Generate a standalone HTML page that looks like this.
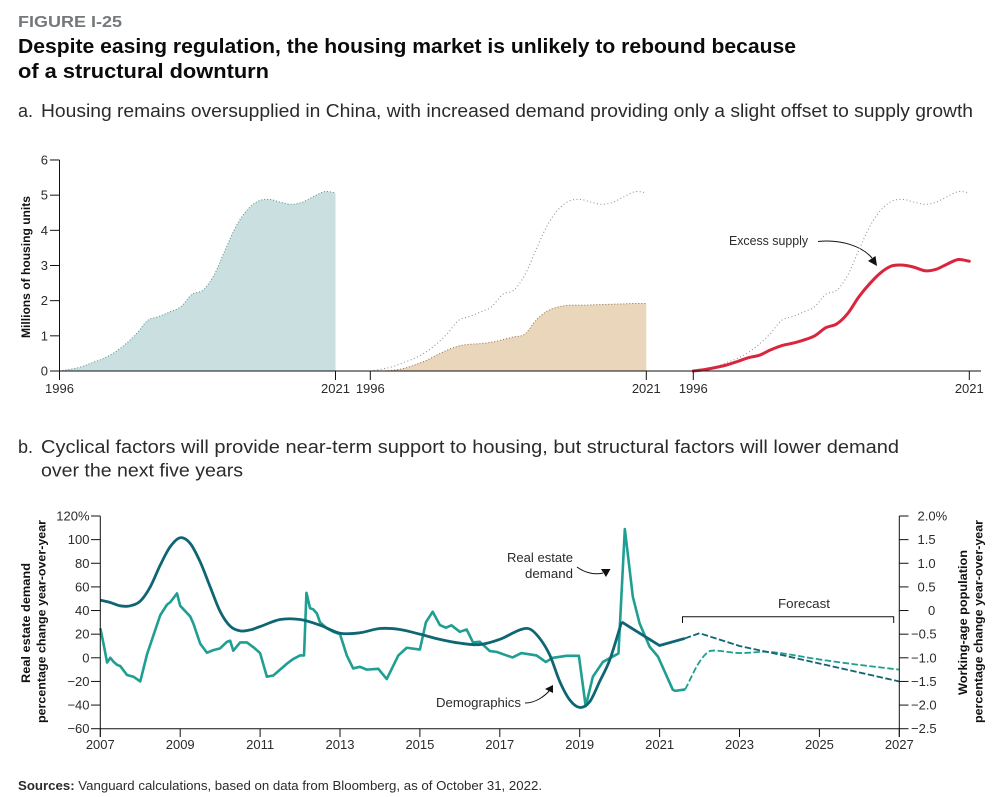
<!DOCTYPE html>
<html lang="en">
<head>
<meta charset="utf-8">
<title>Figure I-25</title>
<style>
html,body{margin:0;padding:0;background:#fff;width:1003px;height:797px;overflow:hidden}
svg{display:block;font-family:"Liberation Sans",sans-serif}
text{fill:#2b2b2b}
</style>
</head>
<body>
<svg id="fig" xmlns="http://www.w3.org/2000/svg" width="1003" height="797" viewBox="0 0 1003 797">
  <text x="18" y="27" font-size="16" font-weight="700" style="fill:#75787b" textLength="104" lengthAdjust="spacingAndGlyphs">FIGURE I-25</text>
  <text x="18" y="53" font-size="20" font-weight="700" style="fill:#0b0b0b" textLength="778" lengthAdjust="spacingAndGlyphs">Despite easing regulation, the housing market is unlikely to rebound because</text>
  <text x="18" y="78" font-size="20" font-weight="700" style="fill:#0b0b0b" textLength="251" lengthAdjust="spacingAndGlyphs">of a structural downturn</text>
  <text x="18" y="117" font-size="18">a.</text>
  <text x="41" y="117" font-size="18" textLength="932" lengthAdjust="spacingAndGlyphs">Housing remains oversupplied in China, with increased demand providing only a slight offset to supply growth</text>
  <text x="18" y="453" font-size="18">b.</text>
  <text x="41" y="453" font-size="18" textLength="858" lengthAdjust="spacingAndGlyphs">Cyclical factors will provide near-term support to housing, but structural factors will lower demand</text>
  <text x="41" y="476.500" font-size="18" textLength="202" lengthAdjust="spacingAndGlyphs">over the next five years</text>

  <text transform="translate(30,267) rotate(-90)" text-anchor="middle" font-size="12" font-weight="700" style="fill:#111" textLength="142" lengthAdjust="spacingAndGlyphs">Millions of housing units</text>
  <text transform="translate(30,623) rotate(-90)" text-anchor="middle" font-size="12" font-weight="700" style="fill:#111" textLength="120" lengthAdjust="spacingAndGlyphs">Real estate demand</text>
  <text transform="translate(45.500,621.500) rotate(-90)" text-anchor="middle" font-size="12" font-weight="700" style="fill:#111" textLength="203" lengthAdjust="spacingAndGlyphs">percentage change year-over-year</text>
  <text transform="translate(967,622.500) rotate(-90)" text-anchor="middle" font-size="12" font-weight="700" style="fill:#111" textLength="145" lengthAdjust="spacingAndGlyphs">Working-age population</text>
  <text transform="translate(982.500,621.500) rotate(-90)" text-anchor="middle" font-size="12" font-weight="700" style="fill:#111" textLength="203" lengthAdjust="spacingAndGlyphs">percentage change year-over-year</text>

  <text x="262" y="245" font-size="13" textLength="39" lengthAdjust="spacingAndGlyphs">Supply</text>
  <text x="563" y="335" font-size="13" textLength="50" lengthAdjust="spacingAndGlyphs">Demand</text>
  <text x="729" y="245" font-size="13" textLength="79" lengthAdjust="spacingAndGlyphs">Excess supply</text>
  <path d="M818 241.500C840 239 862 246 872 258" fill="none" stroke="#111" stroke-width="1"/>
  <path d="M877 266L868 261L875.500 256Z" fill="#111"/>

  <text x="573" y="562" font-size="13" text-anchor="end" textLength="66" lengthAdjust="spacingAndGlyphs">Real estate</text>
  <text x="573" y="578" font-size="13" text-anchor="end" textLength="48" lengthAdjust="spacingAndGlyphs">demand</text>
  <path d="M577 567C585 573 595 575 603 573" fill="none" stroke="#111" stroke-width="1"/>
  <path d="M601 569L610.500 569L606 577Z" fill="#111"/>

  <text x="436" y="707" font-size="13" textLength="85" lengthAdjust="spacingAndGlyphs">Demographics</text>
  <path d="M525 703C535 703 544 697 550 690" fill="none" stroke="#111" stroke-width="1"/>
  <path d="M553 685L553 693L545 689Z" fill="#111"/>

  <text x="804" y="608" font-size="13" text-anchor="middle" textLength="52" lengthAdjust="spacingAndGlyphs">Forecast</text>
  <path d="M682.500 623V616.700H893.700V623" fill="none" stroke="#111" stroke-width="1"/>

  <text x="18" y="790" font-size="13" textLength="524" lengthAdjust="spacingAndGlyphs"><tspan font-weight="700">Sources:</tspan> Vanguard calculations, based on data from Bloomberg, as of October 31, 2022.</text>
</svg>

<script>
// Panel a data
const housingYears = [1996,1997,1998,1999,2000,2001,2002,2003,2004,2005,2006,2007,2008,2009,2010,2011,2012,2013,2014,2015,2016,2017,2018,2019,2020,2021];
const supplyValues = [0,0.05,0.12,0.24,0.36,0.53,0.77,1.07,1.44,1.55,1.68,1.83,2.18,2.30,2.73,3.44,4.12,4.58,4.83,4.88,4.80,4.74,4.80,4.96,5.10,5.07];
const demandValues = [0,0,0.02,0.07,0.17,0.29,0.45,0.60,0.71,0.76,0.78,0.82,0.89,0.97,1.05,1.44,1.70,1.82,1.87,1.87,1.88,1.89,1.90,1.91,1.92,1.92];
const excessValues = [0,0.04,0.10,0.17,0.27,0.38,0.45,0.60,0.72,0.79,0.88,1.00,1.23,1.34,1.64,2.11,2.49,2.80,2.99,3.01,2.95,2.85,2.89,3.04,3.17,3.12];
const housingYTicks = [0,1,2,3,4,5,6];
const housingXTicks = [1996,2021];

// Panel b data
const demandYears = [2007,2007.08,2007.17,2007.25,2007.33,2007.42,2007.5,2007.67,2007.83,2008,2008.17,2008.33,2008.5,2008.67,2008.75,2008.92,2009,2009.25,2009.33,2009.5,2009.67,2009.83,2010,2010.17,2010.25,2010.33,2010.5,2010.67,2010.83,2011,2011.17,2011.33,2011.5,2011.67,2011.83,2012,2012.1,2012.16,2012.25,2012.33,2012.42,2012.5,2012.67,2012.83,2013,2013.17,2013.33,2013.5,2013.67,2013.96,2014.17,2014.46,2014.67,2015,2015.15,2015.32,2015.5,2015.65,2015.79,2016,2016.17,2016.33,2016.5,2016.75,2016.92,2017.17,2017.32,2017.54,2017.92,2018.15,2018.33,2018.67,2018.98,2019.15,2019.33,2019.58,2019.97,2020.13,2020.33,2020.5,2020.75,2020.96,2021.33,2021.39,2021.64];
const demandPct = [25,12,-4,0,-3.3,-6,-7,-14.6,-16,-20,3,19,36,45,47,54.5,44,35,29,12,4.3,6.5,8,13.5,14.5,6,13,13,9,4,-16,-15,-10,-5,-1,2,2,55,42,41,37.6,30,25,22,20,2,-9,-7.6,-10,-9.3,-18,2,8.5,7,30,39,27.7,25.5,27.5,22,24,13,13.5,5.7,5,2,0.3,4,2,-3.5,0,1.7,1.7,-41,-16,-3.5,3.7,109,51.7,29,9.4,1,-27,-28,-26.8];
const demandForecastYears = [2021.64,2021.97,2022.22,2022.43,2023,2023.75,2025,2026,2027];
const demandForecastPct = [-26.8,-5,5,6,4,5,-1.4,-6,-10];
const demographicYears = [2007,2007.25,2007.5,2007.75,2008,2008.25,2008.5,2008.75,2009,2009.25,2009.5,2009.75,2010,2010.25,2010.5,2010.75,2011,2011.5,2012,2012.5,2013,2013.5,2014,2014.5,2015,2015.5,2016,2016.5,2017,2017.5,2017.75,2018,2018.25,2018.5,2018.75,2019,2019.25,2019.5,2019.75,2020.05,2020.5,2021,2021.63];
const demographicPct = [0.22,0.17,0.10,0.10,0.20,0.50,0.96,1.35,1.54,1.42,1.03,0.50,-0.02,-0.33,-0.43,-0.41,-0.34,-0.19,-0.19,-0.31,-0.48,-0.47,-0.38,-0.40,-0.50,-0.61,-0.69,-0.72,-0.61,-0.41,-0.39,-0.59,-0.94,-1.50,-1.89,-2.05,-1.93,-1.50,-1.05,-0.24,-0.48,-0.74,-0.59];
const demographicForecastYears = [2021.63,2022,2023,2024,2025,2026,2027];
const demographicForecastPct = [-0.59,-0.48,-0.75,-0.93,-1.12,-1.31,-1.50];
const leftTicks = [120,100,80,60,40,20,0,-20,-40,-60];
const leftTickLabels = ['120%','100','80','60','40','20','0','\u221220','\u221240','\u221260'];
const rightTicks = [2,1.5,1,0.5,0,-0.5,-1,-1.5,-2,-2.5];
const rightTickLabels = ['2.0%','1.5','1.0','0.5','0','\u22120.5','\u22121.0','\u22121.5','\u22122.0','\u22122.5'];
const timeTicks = [2007,2009,2011,2013,2015,2017,2019,2021,2023,2025,2027];

const svg = document.getElementById('fig');
const NS = 'http://www.w3.org/2000/svg';
function make(tag, attrs, txt){
  const el = document.createElementNS(NS, tag);
  for (const k in attrs) el.setAttribute(k, attrs[k]);
  if (txt !== undefined) el.textContent = txt;
  svg.appendChild(el);
  return el;
}
function f(n){ return n.toFixed(2); }
function smoothPath(pts){
  const n = pts.length, m = [];
  for (let i = 0; i < n; i++){
    const a = pts[Math.max(i-1,0)], b = pts[Math.min(i+1,n-1)];
    m.push((b[1]-a[1])/(b[0]-a[0]));
  }
  let d = 'M'+f(pts[0][0])+' '+f(pts[0][1]);
  for (let i = 0; i < n-1; i++){
    const h = (pts[i+1][0]-pts[i][0])/3;
    d += 'C'+f(pts[i][0]+h)+' '+f(pts[i][1]+m[i]*h)+' '+f(pts[i+1][0]-h)+' '+f(pts[i+1][1]-m[i+1]*h)+' '+f(pts[i+1][0])+' '+f(pts[i+1][1]);
  }
  return d;
}
function linearPath(pts){
  return 'M' + pts.map(p => f(p[0])+' '+f(p[1])).join('L');
}
function zip(xs, ys, sx, sy){ return xs.map((x,i) => [sx(x), sy(ys[i])]); }

// Panel a axes
const housingY = v => 371 - v*35.17;
const panelX = start => yr => start + (yr-1996)*11.04;
const xA = panelX(59.5), xB = panelX(370.3), xC = panelX(693.3);

// Panel a marks (beneath axes)
const supplyPts = zip(housingYears, supplyValues, xA, housingY);
const supplyArea = make('path', {d: smoothPath(supplyPts)+'L'+f(xA(2021))+' 371L'+f(xA(1996))+' 371Z', fill:'#c9dfe0'});


const supplyEdge = make('path', {d: smoothPath(supplyPts), fill:'none', stroke:'#5c8c8c', 'stroke-width':1, 'stroke-dasharray':'1 2'});



const supplyRefB = make('path', {d: smoothPath(zip(housingYears, supplyValues, xB, housingY)), fill:'none', stroke:'#8a8a8a', 'stroke-width':1, 'stroke-dasharray':'1 2.500'});


const demandPts = zip(housingYears, demandValues, xB, housingY);
const demandArea = make('path', {d: smoothPath(demandPts)+'L'+f(xB(2021))+' 371L'+f(xB(1996))+' 371Z', fill:'#ead6bb'});


const demandEdge = make('path', {d: smoothPath(demandPts), fill:'none', stroke:'#8a6d4a', 'stroke-width':1, 'stroke-dasharray':'1 2'});



const supplyRefC = make('path', {d: smoothPath(zip(housingYears, supplyValues, xC, housingY)), fill:'none', stroke:'#8a8a8a', 'stroke-width':1, 'stroke-dasharray':'1 2.500'});


const excessLine = make('path', {d: smoothPath(zip(housingYears, excessValues, xC, housingY)), fill:'none', stroke:'#d9253d', 'stroke-width':3, 'stroke-linecap':'round'});



// Panel a axis lines
const aXAxis = make('line', {x1:59.5, x2:981, y1:371, y2:371, stroke:'#111', 'stroke-width':1});


const aYAxis = make('line', {x1:59.5, x2:59.5, y1:housingY(6), y2:380, stroke:'#111', 'stroke-width':1});


housingYTicks.forEach(v => {
  const t = make('line', {x1:50, x2:59.5, y1:housingY(v), y2:housingY(v), stroke:'#111', 'stroke-width':1});
  
  
  const l = make('text', {x:48, y:housingY(v)+4.500, 'text-anchor':'end', 'font-size':13}, String(v));
  
  
});
[xA, xB, xC].forEach(sx => {
  housingXTicks.forEach(yr => {
    const t = make('line', {x1:sx(yr), x2:sx(yr), y1:371, y2:380, stroke:'#111', 'stroke-width':1});
    
    
    const l = make('text', {x:sx(yr), y:393, 'text-anchor':'middle', 'font-size':13}, String(yr));
    
    
  });
});

// Panel b axes
const timeX = yr => 100.3 + (yr-2007)*39.95;
const leftY = v => 657.8 - v*1.1817;
const rightY = v => 516 + (2-v)*47.27;

const demandLine = make('path', {d: linearPath(zip(demandYears, demandPct, timeX, leftY)), fill:'none', stroke:'#1f9e92', 'stroke-width':2.600, 'stroke-linejoin':'round'});


const demandForecast = make('path', {d: smoothPath(zip(demandForecastYears, demandForecastPct, timeX, leftY)), fill:'none', stroke:'#1f9e92', 'stroke-width':1.800, 'stroke-dasharray':'6.500 2.500'});



// The demographics line has one sharp corner where the peak meets the decline
const kinkIndex = demographicPct.indexOf(Math.max(...demographicPct.slice(30)));
const demographicSeg1 = make('path', {d: smoothPath(zip(demographicYears.slice(0,kinkIndex+1), demographicPct.slice(0,kinkIndex+1), timeX, rightY)), fill:'none', stroke:'#0f6673', 'stroke-width':2.800, 'stroke-linejoin':'round'});


const demographicSeg2 = make('path', {d: linearPath(zip(demographicYears.slice(kinkIndex), demographicPct.slice(kinkIndex), timeX, rightY)), fill:'none', stroke:'#0f6673', 'stroke-width':2.800, 'stroke-linejoin':'round'});


const demographicForecast = make('path', {d: linearPath(zip(demographicForecastYears, demographicForecastPct, timeX, rightY)), fill:'none', stroke:'#0f6673', 'stroke-width':1.800, 'stroke-dasharray':'6.500 2.500'});



const bXAxis = make('line', {x1:timeX(2007), x2:timeX(2027), y1:leftY(-60), y2:leftY(-60), stroke:'#111', 'stroke-width':1});


const bLeftAxis = make('line', {x1:timeX(2007), x2:timeX(2007), y1:leftY(120), y2:737, stroke:'#111', 'stroke-width':1});


const bRightAxis = make('line', {x1:timeX(2027), x2:timeX(2027), y1:rightY(2), y2:737, stroke:'#111', 'stroke-width':1});


leftTicks.forEach((v,i) => {
  const t = make('line', {x1:91, x2:timeX(2007), y1:leftY(v), y2:leftY(v), stroke:'#111', 'stroke-width':1});
  
  
  const l = make('text', {x:89.500, y:leftY(v)+4.500, 'text-anchor':'end', 'font-size':13}, leftTickLabels[i]);
  
  
});
rightTicks.forEach((v,i) => {
  const t = make('line', {x1:timeX(2027), x2:908.500, y1:rightY(v), y2:rightY(v), stroke:'#111', 'stroke-width':1});
  
  
  const hasMinus = rightTickLabels[i].charAt(0) === '\u2212';
  const l = make('text', {x: hasMinus ? 911 : (v === 0 ? 928 : 917.500), y:rightY(v)+4.500, 'font-size':13}, rightTickLabels[i]);
  
  
});
timeTicks.forEach(yr => {
  const t = make('line', {x1:timeX(yr), x2:timeX(yr), y1:leftY(-60), y2:737, stroke:'#111', 'stroke-width':1});
  
  
  const l = make('text', {x:timeX(yr), y:749, 'text-anchor':'middle', 'font-size':13}, String(yr));
  
  
});
</script>
</body>
</html>
